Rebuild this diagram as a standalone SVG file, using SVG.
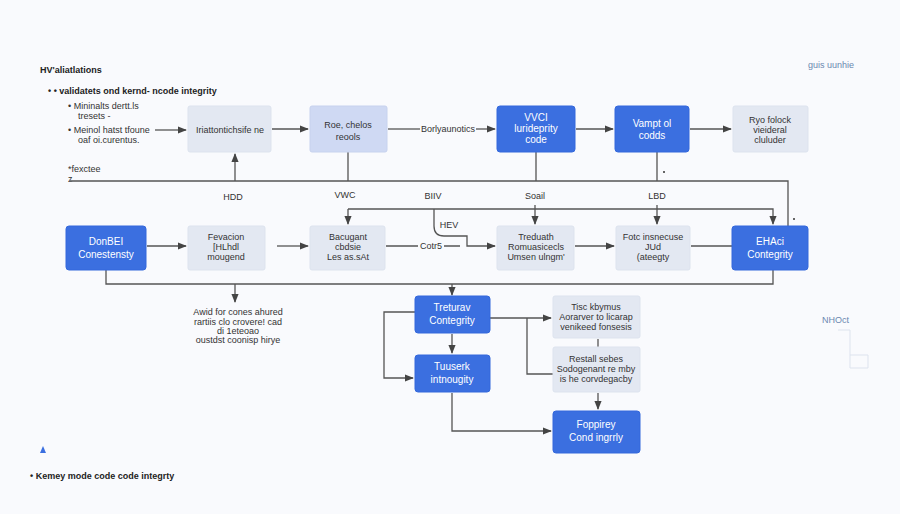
<svg xmlns="http://www.w3.org/2000/svg" width="900" height="514" viewBox="0 0 900 514">
<defs>
<marker id="a" viewBox="0 0 10 10" refX="9" refY="5" markerWidth="7" markerHeight="7" orient="auto"><path d="M0,1 L10,5 L0,9 z" fill="#444"/></marker>
<style>
text{font-family:"Liberation Sans",Arial,sans-serif;font-size:9px;fill:#333}
.lt{fill:#e3e8f2;stroke:#dde3ee}
.md{fill:#cfd9f3;stroke:#c7d2ee}
.bl{fill:#3b6fe0;stroke:#3468dc}
.w{fill:#fff;font-size:10px}
.bt{fill:#6a88b0}
.h{fill:#222;font-weight:bold}
.c{stroke:#555;stroke-width:1.3;fill:none}
.m{text-anchor:middle}
</style>
</defs>
<rect width="900" height="514" fill="#f9fafd"/>
<text x="40" y="73" font-size="10" class="h">HV'aliatlations</text>
<text x="48" y="94" font-size="10" class="h">• • validatets ond kernd- ncode integrity</text>
<text x="68" y="109" font-size="8">•  Mininalts dertt.ls</text>
<text x="78" y="119" font-size="8">tresets -</text>
<text x="68" y="133" font-size="8">•  Meinol hatst tfoune</text>
<text x="78" y="143" font-size="8">oaf oi.curentus.</text>
<text x="68" y="172" font-size="8">*fexctee</text>
<text x="68" y="182" font-size="8">z</text>
<text x="808" y="68" font-size="9" class="bt">guis uunhie</text>
<text x="822" y="323" font-size="9" class="bt">NHOct</text>
<path d="M838,330 L850,330 L850,368 L868,368 L868,355 L850,355" stroke="#dde3ee" fill="none"/>
<path d="M40,453 L43,446 L46,453 z" fill="#3b6fe0"/>
<text x="30" y="479" font-size="10" class="h">• Kemey mode code code integrty</text>
<g id="connectors">
<path class="c" d="M155,130 H186" marker-end="url(#a)"/>
<path class="c" d="M272,129 H308" marker-end="url(#a)"/>
<path class="c" d="M388,129 H420"/>
<path class="c" d="M476,129 H495" marker-end="url(#a)"/>
<path class="c" d="M576,129 H613" marker-end="url(#a)"/>
<path class="c" d="M690,129 H731" marker-end="url(#a)"/>
<path class="c" d="M70,181 H788 V226"/>
<path class="c" d="M235,181 V154" marker-end="url(#a)"/>
<path class="c" d="M348,152 V181 M536,152 V181 M657,152 V181"/>
<path class="c" d="M348,209 H773 V224" marker-end="url(#a)"/>
<path class="c" d="M348,209 V224" marker-end="url(#a)"/>
<path class="c" d="M535,205 V224" marker-end="url(#a)"/>
<path class="c" d="M657,205 V224" marker-end="url(#a)"/>
<path class="c" d="M434,209 V226 Q434,236 444,236 H467 V246 H495" marker-end="url(#a)"/>
<path class="c" d="M147,246 H186" marker-end="url(#a)"/>
<path class="c" d="M277,246 H308" marker-end="url(#a)"/>
<path class="c" d="M386,246 H418 M444,246 H460"/>
<path class="c" d="M575,246 H614" marker-end="url(#a)"/>
<path class="c" d="M691,246 H732"/>
<path class="c" d="M106,270 V284 H773 V270"/>
<path class="c" d="M235,284 V302" marker-end="url(#a)"/>
<path class="c" d="M452,284 V295" marker-end="url(#a)"/>
<path class="c" d="M490,318 H551" marker-end="url(#a)"/>
<path class="c" d="M527,318 V374 H553"/>
<path class="c" d="M452,334 V353" marker-end="url(#a)"/>
<path class="c" d="M415,312 H384 V378 H413" marker-end="url(#a)"/>
<path class="c" d="M452,393 V431 H551" marker-end="url(#a)"/>
<path class="c" d="M598,339 V347"/>
<path class="c" d="M598,393 V409" marker-end="url(#a)"/>
<circle cx="664" cy="172" r="1" fill="#333"/><circle cx="794" cy="219" r="1" fill="#333"/>
</g>
<text x="233" y="200" class="m">HDD</text>
<text x="345" y="198" class="m">VWC</text>
<text x="433" y="199" class="m">BIIV</text>
<text x="535" y="199" class="m">Soail</text>
<text x="657" y="199" class="m">LBD</text>
<text x="449" y="228" class="m" font-size="8">HEV</text>
<text x="448" y="132" class="m" font-size="8">Borlyaunotics</text>
<text x="431" y="249" class="m" font-size="8">Cotr5</text>
<g id="n1"><rect class="lt" x="188" y="106" width="83" height="46" rx="2"/><text x="230" y="133" class="m">Iriattontichsife ne</text></g>
<g id="n2"><rect class="md" x="310" y="106" width="77" height="46" rx="2"/><text x="348" y="128" class="m">Roe, chelos</text><text x="348" y="140" class="m">reools</text></g>
<g id="n3"><rect class="bl" x="497" y="106" width="78" height="46" rx="3"/><text x="536" y="121" class="m w">VVCI</text><text x="536" y="132" class="m w">lurideprity</text><text x="536" y="143" class="m w">code</text></g>
<g id="n4"><rect class="bl" x="615" y="106" width="74" height="46" rx="3"/><text x="652" y="127" class="m w">Vampt ol</text><text x="652" y="139" class="m w">codds</text></g>
<g id="n5"><rect class="lt" x="733" y="106" width="75" height="46" rx="2"/><text x="770" y="123" class="m" font-size="8">Ryo folock</text><text x="770" y="133" class="m" font-size="8">vieideral</text><text x="770" y="143" class="m" font-size="8">cluluder</text></g>
<g id="n6"><rect class="bl" x="66" y="226" width="80" height="44" rx="3"/><text x="106" y="245" class="m w">DonBEI</text><text x="106" y="258" class="m w">Conestensty</text></g>
<g id="n7"><rect class="lt" x="188" y="226" width="77" height="44" rx="2"/><text x="226" y="240" class="m" font-size="8">Fevacion</text><text x="226" y="250" class="m" font-size="8">[HLhdl</text><text x="226" y="260" class="m" font-size="8">mougend</text></g>
<g id="n8"><rect class="lt" x="310" y="226" width="75" height="44" rx="2"/><text x="348" y="240" class="m" font-size="8">Bacugant</text><text x="348" y="250" class="m" font-size="8">cbdsie</text><text x="348" y="260" class="m" font-size="8">Les as.sAt</text></g>
<g id="n9"><rect class="lt" x="497" y="226" width="77" height="44" rx="2"/><text x="536" y="240" class="m" font-size="8">Treduath</text><text x="536" y="250" class="m" font-size="8">Romuasicecls</text><text x="536" y="260" class="m" font-size="8">Umsen ulngm'</text></g>
<g id="n10"><rect class="lt" x="616" y="226" width="74" height="44" rx="2"/><text x="653" y="240" class="m" font-size="8">Fotc insnecuse</text><text x="653" y="250" class="m" font-size="8">JUd</text><text x="653" y="260" class="m" font-size="8">(ateegty</text></g>
<g id="n11"><rect class="bl" x="732" y="226" width="76" height="44" rx="3"/><text x="770" y="245" class="m w">EHAci</text><text x="770" y="258" class="m w">Contegrity</text></g>
<g id="n12"><text x="238" y="315" class="m" font-size="8">Awid for cones ahured</text><text x="238" y="325" class="m" font-size="8">rartiis clo crovere! cad</text><text x="238" y="334" class="m" font-size="8">di 1eteoao</text><text x="238" y="343" class="m" font-size="8">oustdst coonisp hirye</text></g>
<g id="n13"><rect class="bl" x="415" y="296" width="75" height="37" rx="3"/><text x="452" y="311" class="m w">Treturav</text><text x="452" y="324" class="m w">Contegrity</text></g>
<g id="n14"><rect class="bl" x="415" y="355" width="75" height="37" rx="3"/><text x="452" y="370" class="m w">Tuuserk</text><text x="452" y="383" class="m w">intnougity</text></g>
<g id="n15"><rect class="lt" x="553" y="296" width="87" height="42" rx="2"/><text x="596" y="310" class="m" font-size="8">Tisc kbymus</text><text x="596" y="320" class="m" font-size="8">Aorarver to licarap</text><text x="596" y="330" class="m" font-size="8">venikeed fonsesis</text></g>
<g id="n16"><rect class="lt" x="553" y="347" width="87" height="45" rx="2"/><text x="596" y="362" class="m" font-size="8">Restall sebes</text><text x="596" y="372" class="m" font-size="8">Sodogenant re mby</text><text x="596" y="382" class="m" font-size="8">is he corvdegacby</text></g>
<g id="n17"><rect class="bl" x="553" y="411" width="87" height="42" rx="3"/><text x="596" y="428" class="m w">Foppirey</text><text x="596" y="441" class="m w">Cond ingrrly</text></g>
</svg>
